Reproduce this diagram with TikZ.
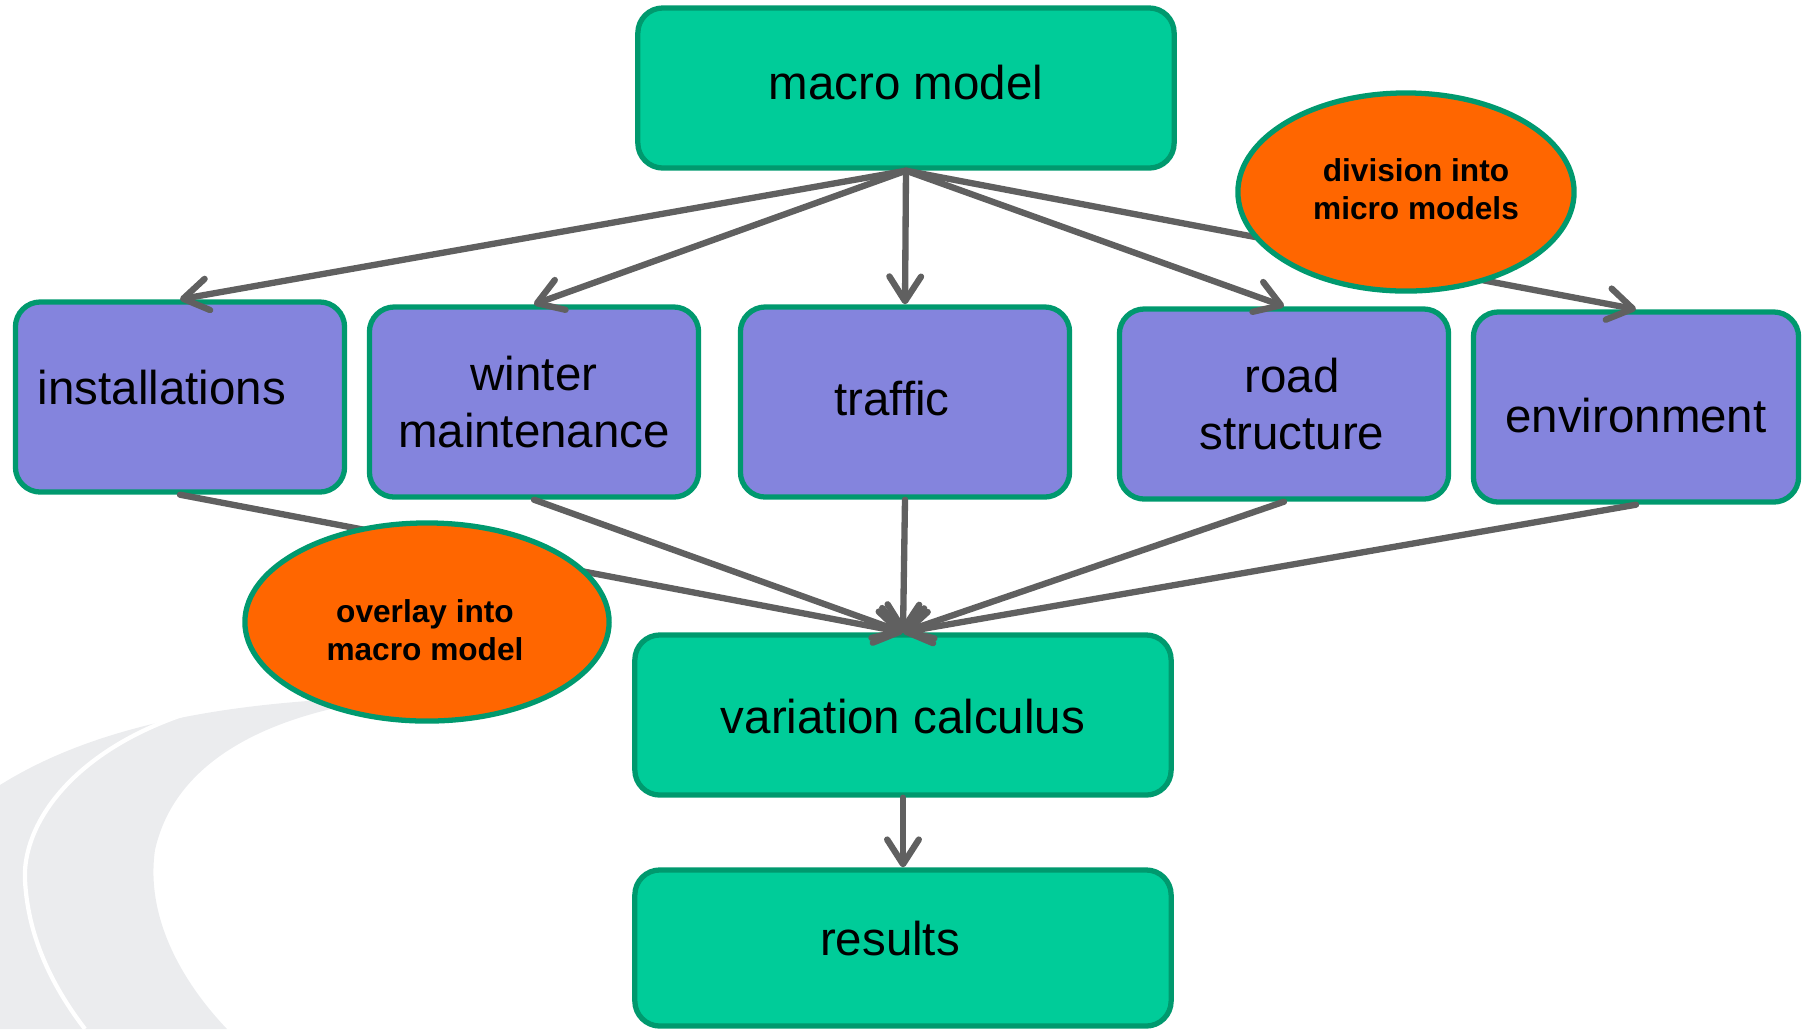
\documentclass[tikz,border=0pt]{standalone}
\usepackage{fontspec}
\setmainfont{Liberation Sans}
\usepackage{xcolor}
\usetikzlibrary{shapes,arrows.meta}
\definecolor{boxgreen}{HTML}{00CC99}
\definecolor{edgegreen}{HTML}{00996E}
\definecolor{boxblue}{HTML}{8484DD}
\definecolor{ovalorange}{HTML}{FF6600}
\definecolor{linkgray}{HTML}{606060}
\definecolor{swooshgray}{HTML}{EBECEE}
% move a text inside its box without changing the box
\newcommand\nudge[3]{\kern#1\raisebox{#2}[\height][\depth]{#3}\kern-#1}

\begin{document}
\begin{tikzpicture}[x=0.01cm, y=-0.01cm,
  mainbox/.style={draw=edgegreen, line width=1.5pt, fill=boxgreen, rounded corners=0.25cm, minimum width=5.36cm, minimum height=1.6cm, align=center, font=\fontsize{13.5}{16.3}\selectfont},
  subbox/.style={mainbox, fill=boxblue, minimum width=3.29cm, minimum height=1.9cm},
  oval/.style={ellipse, draw=edgegreen, line width=1.5pt, fill=ovalorange, inner sep=0pt, align=center, font=\fontsize{9}{10.8}\selectfont\bfseries},
  link/.style={draw=linkgray, line width=1.8pt, line cap=round, line join=round, -{Straight Barb[length=7pt,width=9pt,round]}}]
\useasboundingbox (0,0) rectangle (1802,1029);

% background swoosh
\fill[swooshgray] (0,785) .. controls (80,735) and (200,700) .. (400,697)
  .. controls (270,712) and (175,760) .. (155,850)
  .. controls (145,920) and (185,985) .. (227,1029) -- (0,1029) -- cycle;
\draw[white, line width=1.2pt] (215,705) .. controls (80,740) and (22,820) .. (25,880)
  .. controls (28,940) and (55,990) .. (85,1029);

% boxes
\node[mainbox] (macro) at (906,88) {\nudge{0cm}{0.05cm}{macro model}};
\node[subbox] (inst) at (180,397) {\nudge{-0.18cm}{0.09cm}{installations}};
\node[subbox] (winter) at (534,402) {winter\\maintenance};
\node[subbox] (traffic) at (905,402) {\nudge{-0.13cm}{0.03cm}{traffic}};
\node[subbox] (road) at (1284,404) {\nudge{0.08cm}{0cm}{road}\\\nudge{0.08cm}{0cm}{structure}};
\node[subbox, minimum width=3.25cm] (env) at (1636,407) {\nudge{0cm}{-0.09cm}{environment}};
\node[mainbox] (varcalc) at (903,715) {\nudge{0cm}{-0.02cm}{variation calculus}};
\node[mainbox, minimum height=1.56cm] (results) at (903,948) {\nudge{-0.13cm}{0.09cm}{results}};

% connectors
\foreach \sub in {inst,winter,traffic,road,env} {
  \draw[link] (macro.south) -- (\sub.north);
  \draw[link] (\sub.south) -- (varcalc.north);
}
\draw[link] (varcalc.south) -- (results.north);

% ovals on top
\node[oval, minimum width=3.36cm, minimum height=1.98cm] (division) at (1406,192)
  {\nudge{0.1cm}{0.03cm}{division into}\\\nudge{0.1cm}{0.03cm}{micro models}};
\node[oval, minimum width=3.64cm, minimum height=1.98cm] (overlay) at (427,622)
  {\nudge{-0.02cm}{-0.08cm}{overlay into}\\\nudge{-0.02cm}{-0.08cm}{macro model}};
\end{tikzpicture}
\end{document}
